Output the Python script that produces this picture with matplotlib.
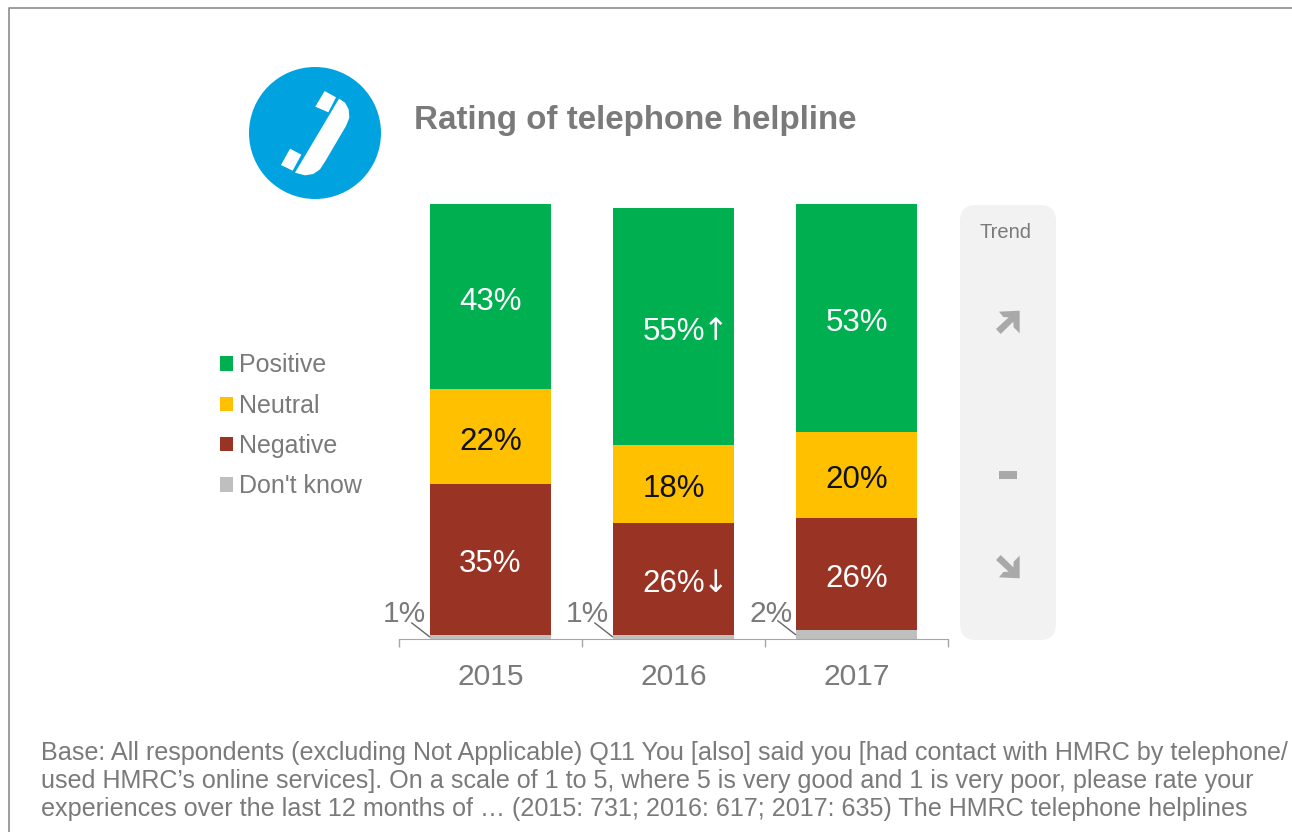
import matplotlib
matplotlib.use("Agg")
import matplotlib.pyplot as plt
from matplotlib.patches import Circle, FancyBboxPatch, Polygon

plt.rcParams['font.family'] = ['Liberation Sans', 'DejaVu Sans']

years = ["2015", "2016", "2017"]
dont_know = [1, 1, 2]
negative = [35, 26, 26]
neutral = [22, 18, 20]
positive = [43, 55, 53]
neg_marks = ["", "\u2193", ""]
pos_marks = ["", "\u2191", ""]
footer = [
    "Base: All respondents (excluding Not Applicable) Q11 You [also] said you [had contact with HMRC by telephone/",
    "used HMRC\u2019s online services]. On a scale of 1 to 5, where 5 is very good and 1 is very poor, please rate your",
    "experiences over the last 12 months of \u2026 (2015: 731; 2016: 617; 2017: 635) The HMRC telephone helplines",
]

W, H = 1292, 832
GREY = "#7a7a7a"
fig = plt.figure(figsize=(W / 100, H / 100), dpi=100)

# overlay in pixel coordinates for the decoration
bg = fig.add_axes([0, 0, 1, 1])
bg.set_xlim(0, W)
bg.set_ylim(H, 0)
bg.axis("off")

# outer frame
bg.plot([9, 9, W], [H, 8, 8], color="#8c8c8c", lw=1.2)

# phone icon
bg.add_patch(Circle((315, 133), 66, color="#00a3e0", lw=0))


def zoomed(pts):
    return [(230 + x / 3, 50 + y / 3) for x, y in pts]


handset = [(327, 146), (345, 158), (356, 178), (358, 203), (348, 228), (285, 335),
           (270, 358), (250, 372), (225, 376), (195, 368)]
ear = [(284, 123), (318, 142), (295, 187), (256, 170)]
mouth = [(180, 296), (214, 314), (188, 362), (153, 345)]
for shape in (handset, ear, mouth):
    bg.add_patch(Polygon(zoomed(shape), color="white", lw=0))

bg.text(414, 120, "Rating of telephone helpline", fontsize=23.9, fontweight="bold",
        color=GREY, va="center", ha="left")

# trend panel
bg.add_patch(FancyBboxPatch((960, 205), 96, 435, boxstyle="round,pad=0,rounding_size=16",
                            fc="#f2f2f2", ec="none"))
bg.text(1005.5, 233, "Trend", fontsize=14.5, color=GREY, ha="center", va="center")


def trend(pts):
    return [(950 + x / 3, 195 + y / 3) for x, y in pts]


up = [(147, 350), (209, 347), (209, 415), (191, 397), (190, 380), (152, 417), (138, 402),
      (176, 367), (160, 366)]
down = [(x, 1497 - y) for x, y in up]
flat = [(147, 828), (201, 828), (201, 852), (147, 852)]
for shape in (up, flat, down):
    bg.add_patch(Polygon(trend(shape), color="#a9a9a9", lw=0))

# footer
for y, line in zip((753, 781, 809), footer):
    bg.text(41, y, line, fontsize=18.1, color=GREY, va="center", ha="left")

# the bars
ax = fig.add_axes([399 / W, 1 - 639 / H, (948 - 399) / W, (639 - 204) / H])
ax.patch.set_alpha(0)
x = list(range(len(years)))
width = 0.665
bottom = [0, 0, 0]
series = [
    ("Don't know", dont_know, "#bfbfbf"),
    ("Negative", negative, "#993323"),
    ("Neutral", neutral, "#ffc000"),
    ("Positive", positive, "#00b050"),
]


def label(i, y, txt, col, mark=""):
    ax.annotate(txt, xy=(i, y), xytext=(0, -5), textcoords="offset pixels",
                color=col, fontsize=22.5, ha="center", va="center")
    if mark:
        ax.annotate(mark, xy=(i, y), xytext=(29, -5), textcoords="offset pixels",
                    color=col, fontsize=22, ha="left", va="center", family="DejaVu Sans")


handles = []
for name, vals, col in series:
    bars = ax.bar(x, vals, width, bottom=bottom, color=col, label=name)
    handles.append(bars)
    for i, v in enumerate(vals):
        mid = bottom[i] + v / 2
        if name == "Negative":
            label(i, mid, f"{v}%", "white", neg_marks[i])
        elif name == "Neutral":
            label(i, mid, f"{v}%", "#111111")
        elif name == "Positive":
            label(i, mid, f"{v}%", "white", pos_marks[i])
        else:
            left = i - width / 2
            ax.annotate("", xy=(left, v / 2), xytext=(-18, 14), textcoords="offset pixels",
                        arrowprops=dict(arrowstyle="-", color="#666666", lw=1, shrinkA=0, shrinkB=0))
            ax.annotate(f"{v}%", xy=(left, 0), xytext=(-25, 25), textcoords="offset pixels",
                        color=GREY, fontsize=21.5, ha="center", va="center")
    bottom = [b + v for b, v in zip(bottom, vals)]

ax.set_xlim(-0.5, 2.5)
ax.set_ylim(0, 101)
for s in ("top", "left", "right"):
    ax.spines[s].set_visible(False)
ax.spines["bottom"].set_color("#a6a6a6")
ax.set_yticks([])
ax.set_xticks([-0.5, 0.5, 1.5, 2.5])
ax.set_xticklabels([])
ax.tick_params(axis="x", which="major", length=6, color="#a6a6a6", width=1)
ax.set_xticks(x, minor=True)
ax.set_xticklabels(years, minor=True)
ax.tick_params(axis="x", which="minor", length=0, labelsize=21.6, labelcolor=GREY, pad=17)

leg = ax.legend(handles[::-1], [s[0] for s in series[::-1]], loc="upper left",
                bbox_to_anchor=(220 / W, 1 - 353.5 / H), bbox_transform=fig.transFigure,
                frameon=False, fontsize=18, handlelength=0.52, handleheight=0.52,
                handletextpad=0.24, labelspacing=0.65, borderpad=0, borderaxespad=0)
for t in leg.get_texts():
    t.set_color(GREY)

fig.savefig("out.png", dpi=100)
